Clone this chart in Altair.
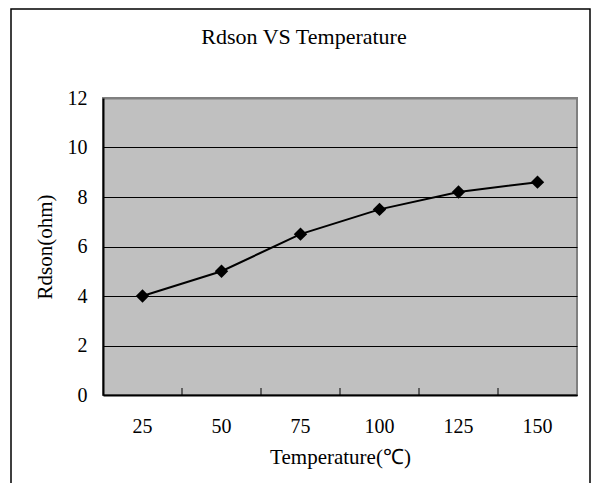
import altair as alt
import pandas as pd

temps = ["25", "50", "75", "100", "125", "150"]
rdson = [4.0, 5.0, 6.5, 7.5, 8.2, 8.6]
y_ticks = [0, 2, 4, 6, 8, 10, 12]

title_text = "Rdson VS Temperature"
x_title = "Temperature(℃)"
y_title = "Rdson(ohm)"

df = pd.DataFrame({"temp": temps, "rdson": rdson})

W, H = 474, 297
FONT = "Liberation Serif"

xscale = alt.Scale(type="band", paddingInner=0, paddingOuter=0, domain=temps)
yscale = alt.Scale(domain=[0, 12], nice=False, zero=True)

base = alt.Chart(df)

line = base.mark_line(color="black", strokeWidth=2).encode(
    x=alt.X("temp:O", scale=xscale, sort=temps,
            axis=alt.Axis(title=x_title, labelAngle=0, ticks=False,
                          labelAlign="center",
                          labelBaseline="middle", labelPadding=31,
                          domainColor="black", domainWidth=2,
                          titleY=62, titleBaseline="middle",
                          labelFont=FONT, labelFontSize=20, labelColor="black",
                          titleFont=FONT, titleFontSize=21, titleFontWeight="normal",
                          titleColor="black", grid=False)),
    y=alt.Y("rdson:Q", scale=yscale,
            axis=alt.Axis(title=y_title, values=y_ticks, ticks=False,
                          labelPadding=16, domainColor="black", domainWidth=2,
                          grid=True,
                          gridColor={"condition": {"test": "datum.value === 12", "value": "#808080"}, "value": "black"},
                          gridWidth={"condition": {"test": "datum.value === 12", "value": 2}, "value": 1},
                          titleX=-58, titleY=H / 2, titleBaseline="middle", titleAlign="center",
                          labelFont=FONT, labelFontSize=20, labelColor="black",
                          titleFont=FONT, titleFontSize=21, titleFontWeight="normal",
                          titleColor="black")),
)

points = base.mark_point(shape="diamond", filled=True, color="black", size=180, opacity=1).encode(
    x=alt.X("temp:O", scale=xscale, sort=temps),
    y=alt.Y("rdson:Q", scale=yscale),
)

ticks = alt.Chart(pd.DataFrame({"temp": temps[1:]})).mark_rule(color="black", strokeWidth=1).encode(
    x=alt.X("temp:O", scale=xscale, sort=temps, bandPosition=0),
    y=alt.value(H - 7),
    y2=alt.value(H),
)

frame = alt.Chart(pd.DataFrame({"a": [0]})).mark_rect(
    fillOpacity=0, stroke="black", strokeWidth=1.5
).encode(
    x=alt.value(-92), x2=alt.value(487), y=alt.value(-89), y2=alt.value(420)
)

title = alt.Chart(pd.DataFrame({"t": [title_text]})).mark_text(
    font=FONT, fontSize=22, color="black", baseline="middle", align="center"
).encode(text="t:N", x=alt.value(201), y=alt.value(-61))

chart = alt.layer(frame, title, ticks, line, points).properties(
    width=W, height=H,
    background="white",
    autosize=alt.AutoSizeParams(type="none"),
    padding={"left": 95, "top": 90, "right": 14, "bottom": 88},
).configure_view(
    fill="#C0C0C0", stroke="#808080", strokeWidth=2
)

chart.save("out.html", embed_options={"renderer": "svg", "actions": False})
